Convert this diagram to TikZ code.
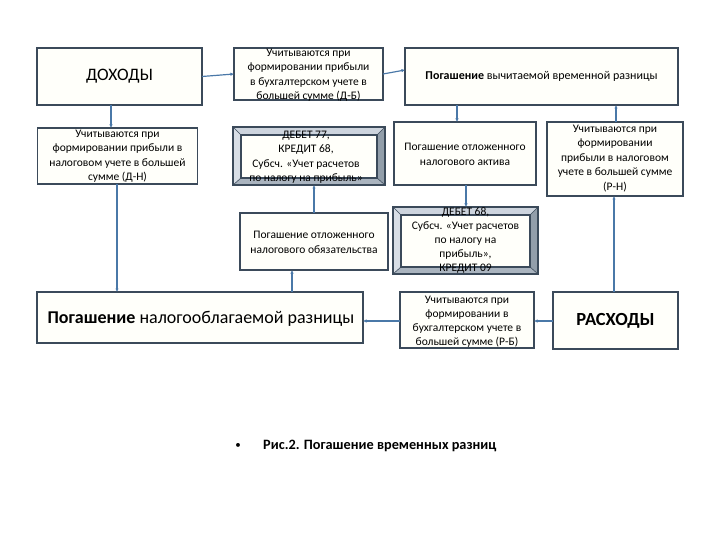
\documentclass[tikz,border=0pt]{standalone}
\usepackage{fontspec}
\setmainfont{Carlito}
\usetikzlibrary{calc,arrows.meta}
\definecolor{bord}{HTML}{3B4A5A}
\definecolor{conn}{HTML}{4A78A8}
\definecolor{boxfill}{HTML}{FFFFFA}
\definecolor{bevleft}{HTML}{D8DEE6}
\definecolor{bevtop}{HTML}{CDD4DD}
\definecolor{bevright}{HTML}{929EAA}
\definecolor{bevbot}{HTML}{AAB4BF}
\begin{document}
\begin{tikzpicture}[x=1pt,y=-1pt,
  box/.style={draw=bord,line width=1.3pt,fill=boxfill,inner sep=0pt,outer sep=0pt},
  bevbox/.style={draw=bord,line width=1.1pt,inner sep=0pt,outer sep=0pt},
  txt/.style={font=\fontsize{11.5}{14.5}\selectfont,align=center,inner sep=0pt,text=black},
  conline/.style={draw=conn,line width=1.2pt,-{Latex[length=3.5pt,width=3.5pt]}}]
\useasboundingbox (0,0) rectangle (720,540);
\fill[white] (0,0) rectangle (720,540);

% plain boxes
\node[box,minimum width=165pt,minimum height=57pt] (doh) at (119.5,76.5) {};
\node[box,minimum width=149pt,minimum height=52pt] (db) at (308.5,74) {};
\node[box,minimum width=273pt,minimum height=57pt] (pvv) at (541.5,76.5) {};
\node[box,minimum width=160pt,minimum height=56pt] (dn) at (117.5,156) {};
\node[box,minimum width=142pt,minimum height=63pt] (akt) at (465,153.5) {};
\node[box,minimum width=136pt,minimum height=74pt] (rn) at (615,159) {};
\node[box,minimum width=148pt,minimum height=57pt] (obz) at (314,241.5) {};
\node[box,minimum width=326pt,minimum height=51pt] (nal) at (200,317.5) {};
\node[box,minimum width=134pt,minimum height=56pt] (rb) at (467,320) {};
\node[box,minimum width=125pt,minimum height=57pt] (ras) at (615.5,320.5) {};

% bevel boxes
\foreach \nm/\cx/\cy/\w/\h in {d77/309/156/152/58, d68/465.5/240.5/145/67}{
  \node[bevbox,minimum width=\w pt,minimum height=\h pt] (\nm) at (\cx,\cy) {};
  \coordinate (\nm-inw) at ($(\nm.north west)+(8,8)$);
  \coordinate (\nm-ine) at ($(\nm.north east)+(-8,8)$);
  \coordinate (\nm-isw) at ($(\nm.south west)+(8,-7)$);
  \coordinate (\nm-ise) at ($(\nm.south east)+(-8,-7)$);
  \fill[bevtop] (\nm.north west) -- (\nm.north east) -- (\nm-ine) -- (\nm-inw) -- cycle;
  \fill[bevleft] (\nm.north west) -- (\nm-inw) -- (\nm-isw) -- (\nm.south west) -- cycle;
  \fill[bevright] (\nm.north east) -- (\nm.south east) -- (\nm-ise) -- (\nm-ine) -- cycle;
  \fill[bevbot] (\nm.south west) -- (\nm-isw) -- (\nm-ise) -- (\nm.south east) -- cycle;
  \draw[bord,line width=0.6pt] (\nm.north west) -- (\nm-inw) (\nm.north east) -- (\nm-ine)
        (\nm.south west) -- (\nm-isw) (\nm.south east) -- (\nm-ise);
  \draw[bord,line width=1.1pt,fill=boxfill] (\nm-inw) rectangle (\nm-ise);
  \draw[bord,line width=1.1pt] (\nm.north west) rectangle (\nm.south east);
}

% texts
\node[font=\fontsize{17.5}{20}\selectfont,inner sep=0pt] (tdoh) at (doh) {ДОХОДЫ};
\node[txt] (tdb) at (308.5,75) {Учитываются при\\формировании прибыли\\в бухгалтерском учете в\\большей сумме (Д-Б)};
\node[font=\fontsize{12}{14}\selectfont,inner sep=0pt] (tpvv) at (pvv) {\textbf{Погашение} вычитаемой временной разницы};
\node[txt] (tdn) at (117.5,156) {Учитываются при\\формировании прибыли в\\налоговом учете в большей\\сумме (Д-Н)};
\node[txt] (td77) at (306,157) {ДЕБЕТ 77,\\КРЕДИТ 68,\\Субсч. «Учет расчетов\\по налогу на прибыль»};
\node[txt] (takt) at (465,154.5) {Погашение отложенного\\налогового актива};
\node[txt] (trn) at (615,158.5) {Учитываются при\\формировании\\прибыли в налоговом\\учете в большей сумме\\(Р-Н)};
\node[txt] (tobz) at (314,242.5) {Погашение отложенного\\налогового обязательства};
\node[txt,font=\fontsize{11.5}{14}\selectfont] (td68) at (465.5,240) {ДЕБЕТ 68,\\Субсч. «Учет расчетов\\по налогу на\\прибыль»,\\КРЕДИТ 09};
\node[font=\fontsize{18}{21}\selectfont,inner sep=0pt] (tnal) at (201,319) {\textbf{Погашение} налогооблагаемой разницы};
\node[txt,font=\fontsize{11.5}{14}\selectfont] (trb) at (467,321.5) {Учитываются при\\формировании в\\бухгалтерском учете в\\большей сумме (Р-Б)};
\node[font=\bfseries\fontsize{18.5}{21}\selectfont,inner sep=0pt] (tras) at (ras) {РАСХОДЫ};

% caption
\node[font=\fontsize{11}{13}\selectfont,inner sep=0pt] (bul) at (238,446) {•};
\node[font=\bfseries\fontsize{14.3}{17}\selectfont,inner sep=0pt,anchor=west] (cap) at (263,446) {Рис.2. Погашение временных разниц};

% connector x positions
\coordinate (xa) at (111,0);
\coordinate (xb) at (117,0);
\coordinate (xc) at (292,0);
\coordinate (xd) at (314,0);
\coordinate (xe) at (457,0);
\coordinate (xf) at (466,0);
\coordinate (xg) at (616,0);
\coordinate (xh) at (614,0);
\coordinate (ya) at (0,321);
\coordinate (pvvin) at (405,70);

% connectors
\draw[conline] (doh.east) -- (db.west);
\draw[conline] (db.east) -- (pvvin);
\draw[conline] (doh.south -| xa) -- (dn.north -| xa);
\draw[conline] (dn.south -| xb) -- (nal.north -| xb);
\draw[conline] (nal.north -| xc) -- (obz.south -| xc);
\draw[conline] (obz.north -| xd) -- (d77.south -| xd);
\draw[conline] (pvv.south -| xe) -- (akt.north -| xe);
\draw[conline] (akt.south -| xf) -- (d68.north -| xf);
\draw[conline] (rn.north -| xg) -- (pvv.south -| xg);
\draw[conline] (ras.north -| xh) -- (rn.south -| xh);
\draw[conline] (ras.west |- ya) -- (rb.east |- ya);
\draw[conline] (rb.west |- ya) -- (nal.east |- ya);
\end{tikzpicture}
\end{document}
